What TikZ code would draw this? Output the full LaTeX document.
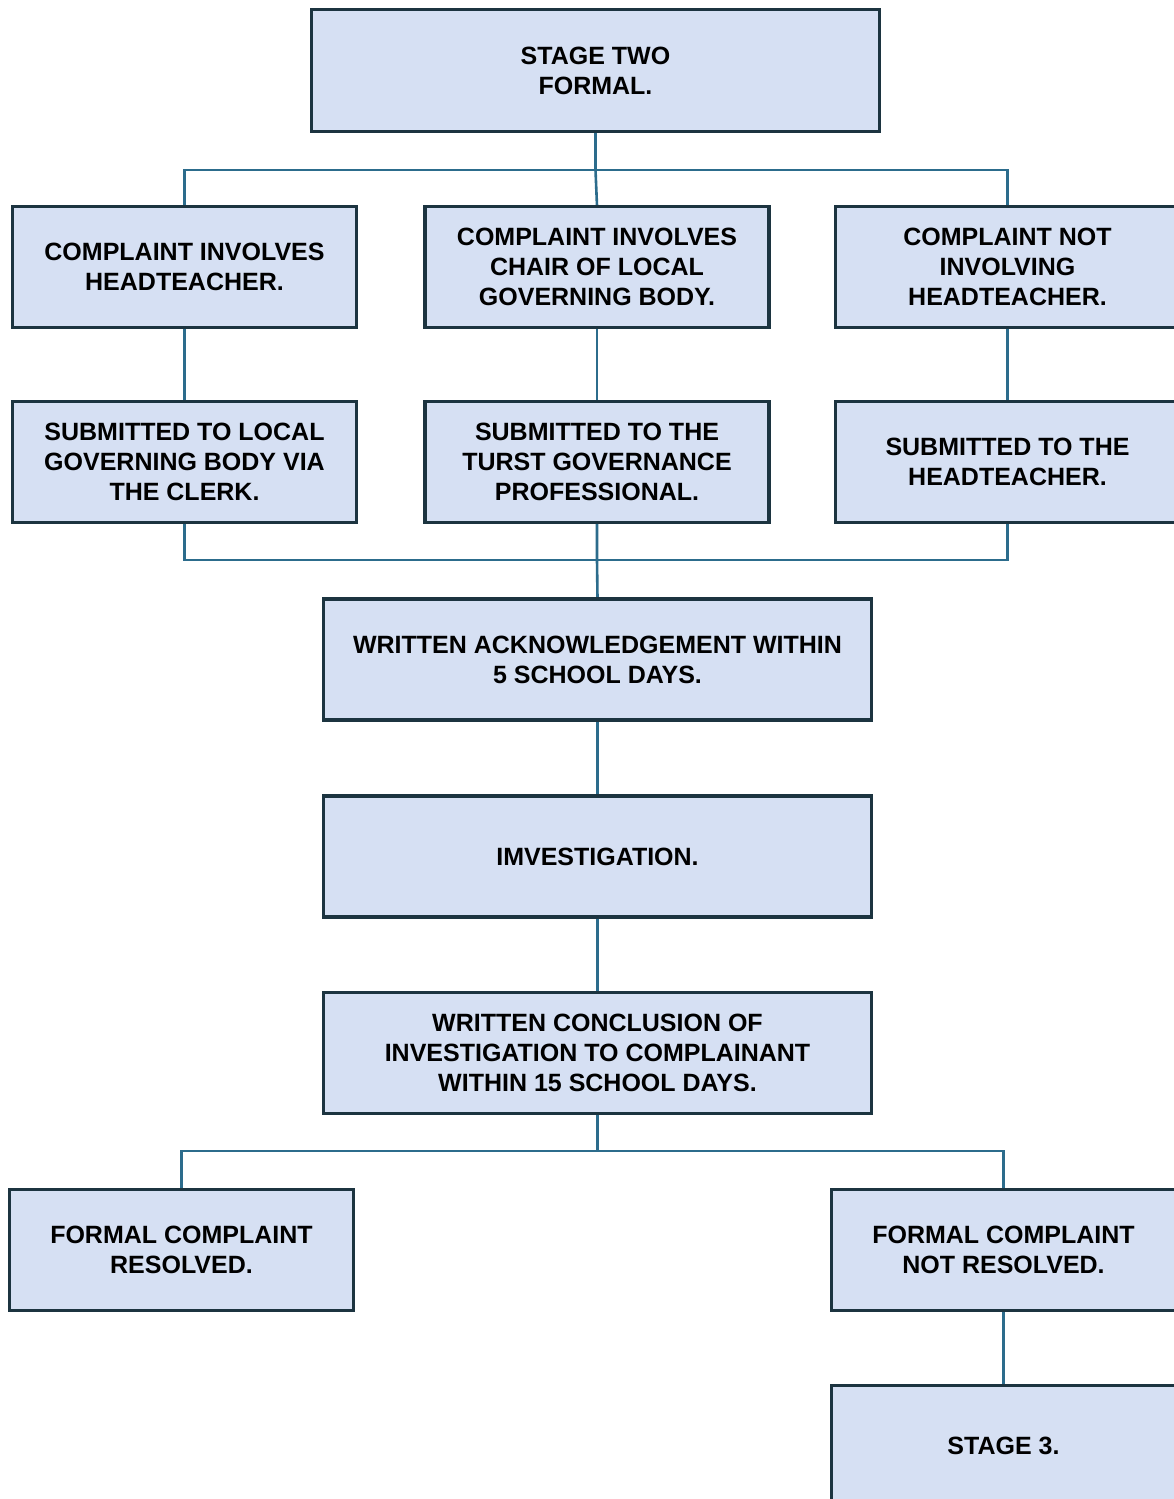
\documentclass[tikz,border=0pt]{standalone}
\usepackage{fontspec}
\setmainfont{Liberation Sans}
\begin{document}
\begin{tikzpicture}[x=1pt,y=-1pt,
  box/.style={draw=boxline, fill=boxfill, line width=2.4pt, minimum width=343pt, minimum height=120pt, inner sep=0pt, align=center, font=\bfseries\fontsize{25}{30}\selectfont, text=black},
  link/.style={draw=linkc, line width=2.6pt}]
\definecolor{boxfill}{HTML}{D6E0F3}
\definecolor{boxline}{HTML}{1C3440}
\definecolor{linkc}{HTML}{2C6C8C}
\useasboundingbox (0,0) rectangle (1174,1499);
\clip (0,0) rectangle (1174,1499);
\fill[white] (0,0) rectangle (1174,1499);
% nodes
\node[box, minimum width=567pt, minimum height=121pt] (top) at (595.5,70.5) {STAGE TWO\\FORMAL.};
\node[box] (a1) at (184.5,267) {COMPLAINT INVOLVES\\HEADTEACHER.};
\node[box] (b1) at (597,267) {COMPLAINT INVOLVES\\CHAIR OF LOCAL\\GOVERNING BODY.};
\node[box] (c1) at (1007.5,267) {COMPLAINT NOT\\INVOLVING\\HEADTEACHER.};
\node[box] (a2) at (184.5,462) {SUBMITTED TO LOCAL\\GOVERNING BODY VIA\\THE CLERK.};
\node[box] (b2) at (597,462) {SUBMITTED TO THE\\TURST GOVERNANCE\\PROFESSIONAL.};
\node[box] (c2) at (1007.5,462) {SUBMITTED TO THE\\HEADTEACHER.};
\node[box, minimum width=547pt] (w1) at (597.5,659.5) {WRITTEN ACKNOWLEDGEMENT WITHIN\\5 SCHOOL DAYS.};
\node[box, minimum width=547pt] (w2) at (597.5,856.5) {IMVESTIGATION.};
\node[box, minimum width=547pt] (w3) at (597.5,1053) {WRITTEN CONCLUSION OF\\INVESTIGATION TO COMPLAINANT\\WITHIN 15 SCHOOL DAYS.};
\node[box] (f1) at (181.5,1250) {FORMAL COMPLAINT\\RESOLVED.};
\node[box] (f2) at (1003.5,1250) {FORMAL COMPLAINT\\NOT RESOLVED.};
\node[box] (s3) at (1003.5,1446) {STAGE 3.};
% connectors
\coordinate (busA) at (595.5,170);
\coordinate (busB) at (597,560);
\coordinate (busC) at (597.5,1151);
\draw[link] (top.south) -- (busA);
\draw[link] (busA) -- (b1.north);
\draw[link] (a1.north) |- (busA) -| (c1.north);
\draw[link] (a1.south) -- (a2.north);
\draw[link] (b1.south) -- (b2.north);
\draw[link] (c1.south) -- (c2.north);
\draw[link] (a2.south) |- (busB) -| (c2.south);
\draw[link] (b2.south) -- (busB) -- (w1.north);
\draw[link] (w1.south) -- (w2.north);
\draw[link] (w2.south) -- (w3.north);
\draw[link] (w3.south) -- (busC);
\draw[link] (f1.north) |- (busC) -| (f2.north);
\draw[link] (f2.south) -- (s3.north);
% redraw box outlines over the line ends
\foreach \n in {top,a1,b1,c1,a2,b2,c2,w1,w2,w3,f1,f2,s3} {\draw[boxline, line width=2.4pt] (\n.north west) rectangle (\n.south east);}
\end{tikzpicture}
\end{document}
